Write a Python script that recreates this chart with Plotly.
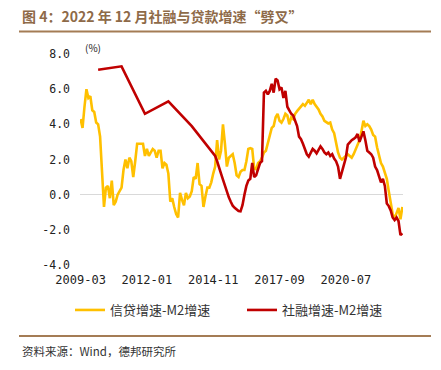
import plotly.graph_objects as go

# ---- data ----
start_year, start_month, n_months = 2009, 3, 166
months = []
for k in range(n_months):
    m = start_month - 1 + k
    months.append(f"{start_year + m // 12}-{m % 12 + 1:02d}")

tick_labels = ["2009-03", "2012-01", "2014-11", "2017-09", "2020-07"]
y_ticks = [8.0, 6.0, 4.0, 2.0, 0.0, -2.0, -4.0]

loan_minus_m2 = [
    4.3, 3.8, 5.0, 6.0, 5.5, 5.6, 4.8, 4.7, 4.1, 4.0,
    3.3, 1.5, -0.7, 0.4, 0.5, -0.2, 0.8, -0.6, -0.4, 0.0,
    0.2, 0.4, 1.4, 2.0, 1.5, 2.1, 1.9, 1.0, 1.9, 2.9,
    2.9, 2.9, 2.9, 2.2, 2.6, 2.2, 2.4, 2.6, 2.5, 2.1,
    2.5, 2.5, 1.5, 1.8, 1.7, 1.2, -0.4, -0.2, -0.7, -1.1,
    -1.3, 0.1, -0.3, -0.6, 0.1, -0.2, -0.1, 0.2, 1.0, 0.9,
    1.8, 0.6, 0.5, -0.7, -0.1, 0.4, 0.4, 0.7, 1.2, 1.6,
    3.1, 2.0, 2.5, 4.0, 2.9, 1.6, 2.1, 2.2, 2.3, 1.8,
    1.1, 1.0, 1.3, 1.4, 1.4, 1.9, 2.6, 2.65, 2.6, 1.5,
    1.45, 1.8, 1.9, 2.1, 2.4, 2.5, 2.9, 3.3, 3.8, 3.9,
    4.4, 4.6, 4.2, 4.1, 4.3, 4.6, 4.5, 4.0, 4.4, 4.3,
    4.6, 4.75, 4.9, 5.0, 5.15, 5.05, 5.25, 5.4, 5.15, 5.4,
    5.15, 5.0, 4.85, 4.6, 4.45, 4.2, 4.1, 4.05, 4.1, 3.7,
    3.5, 2.9, 2.4, 2.1, 2.0, 2.1, 2.2, 2.3, 2.2, 2.1,
    2.3, 2.6, 2.9, 3.1, 3.6, 4.2, 3.9, 4.0, 3.9, 3.7,
    3.4, 3.3, 2.7, 2.3, 1.8, 1.6, 1.3, 0.9, 0.2, -0.5,
    -1.1, -1.35, -1.0, -0.75, -1.4, -0.7,
]

# social financing minus M2: annual points 2009-2014, monthly from 2015-01
sf_annual_months = ["2009-12", "2010-12", "2011-12", "2012-12", "2013-12", "2014-12"]
sf_annual_vals = [7.1, 7.3, 4.6, 5.3, 3.9, 2.2]
sf_monthly_vals = [
    1.9, 1.6, 1.2, 0.85, 0.5, 0.2, -0.15, -0.4, -0.63, -0.75,
    -0.87, -0.93, -0.95, -0.6, 0.0, 0.5, 0.8, 0.9, 1.8, 1.0,
    1.1, 1.4, 1.8, 1.9, 5.8, 5.9, 5.7, 5.9, 6.3, 5.8,
    6.6, 6.5, 6.0, 6.1, 5.5, 5.9, 5.0, 4.8, 4.6, 4.5,
    4.2, 3.9, 3.3, 3.15, 2.9, 2.6, 2.3, 2.16, 2.4, 2.6,
    2.5, 2.35, 2.55, 2.75, 2.6, 2.4, 2.3, 2.4, 2.2, 2.3,
    2.05, 1.9, 1.6, 0.9, 1.3, 1.7, 2.1, 2.85, 3.0, 3.1,
    3.17, 3.26, 3.45, 3.0, 3.3, 3.6, 3.1, 2.5, 2.4, 2.3,
    2.1, 1.6, 1.4, 1.0, 0.7, 0.9, 0.5, -0.5, -0.65, -0.9,
    -1.3, -1.45, -1.3, -1.5, -2.3, -2.2,
]
sf_monthly_months = months[months.index("2015-01"):]
sf_x = sf_annual_months + sf_monthly_months
sf_y = sf_annual_vals + sf_monthly_vals

series_names = ["信贷增速-M2增速", "社融增速-M2增速"]
title_text = "图 4：2022 年 12 月社融与贷款增速“劈叉”"
source_text = "资料来源：Wind，德邦研究所"

# ---- figure ----
CJK = "Noto Sans CJK SC"
MONO = "DejaVu Sans Mono"
brown = "#A47C55"

fig = go.Figure()
fig.add_trace(go.Scatter(x=months, y=loan_minus_m2, mode="lines", name=series_names[0],
                         line=dict(color="#FFC000", width=2.6)))
fig.add_trace(go.Scatter(x=sf_x, y=sf_y, mode="lines", name=series_names[1],
                         line=dict(color="#C00000", width=2.6)))

W, H = 441, 370
L, R, T, B = 80, 38, 54, 105

def px(xp):
    return (xp - L) / (W - L - R)

def py(yp):
    return (H - B - yp) / (H - B - T)

fig.update_layout(
    width=W, height=H,
    margin=dict(l=L, r=R, t=T, b=B, pad=0),
    paper_bgcolor="white", plot_bgcolor="white",
    showlegend=True,
    legend=dict(orientation="h", x=px(70), xanchor="left", y=py(310), yanchor="middle",
                font=dict(family=CJK, size=13, color="#333333"),
                entrywidth=127, itemwidth=30, bgcolor="rgba(0,0,0,0)"),
    xaxis=dict(type="category", categoryorder="array", categoryarray=months,
               range=[-0.3, n_months - 0.7],
               tickmode="array", tickvals=tick_labels, ticktext=tick_labels,
               showgrid=False, zeroline=False, showline=False, ticks="",
               tickfont=dict(family=MONO, size=12, color="#222222"),
               ticklabelstandoff=6),
    yaxis=dict(range=[-4, 8], tickmode="array", tickvals=y_ticks,
               ticktext=[f"{v:.1f}" for v in y_ticks],
               showgrid=False, zeroline=True, zerolinecolor="#D9D9D9", zerolinewidth=1,
               showline=False, ticks="",
               tickfont=dict(family=MONO, size=11.5, color="#222222"),
               ticklabelstandoff=9),
    font=dict(family=CJK),
)

fig.add_annotation(text=title_text, xref="paper", yref="paper", x=px(20), y=py(16),
                   xanchor="left", yanchor="middle", showarrow=False,
                   font=dict(family=CJK, size=14, color="#8E6A48", weight="bold"))
fig.add_annotation(text="(%)", xref="paper", yref="paper", x=px(93), y=py(47),
                   xanchor="center", yanchor="middle", showarrow=False,
                   font=dict(family=CJK, size=10, color="#222222"))
fig.add_annotation(text=source_text, xref="paper", yref="paper", x=px(20), y=py(351),
                   xanchor="left", yanchor="middle", showarrow=False,
                   font=dict(family=CJK, size=11.5, color="#333333"))

for yp in (31.5, 336):
    fig.add_shape(type="line", xref="paper", yref="paper", x0=px(19), x1=px(431),
                  y0=py(yp), y1=py(yp), line=dict(color=brown, width=2))

fig.write_html("out.html", config={"displayModeBar": False},
               post_script="document.body.style.margin='0';document.body.style.padding='0';")
